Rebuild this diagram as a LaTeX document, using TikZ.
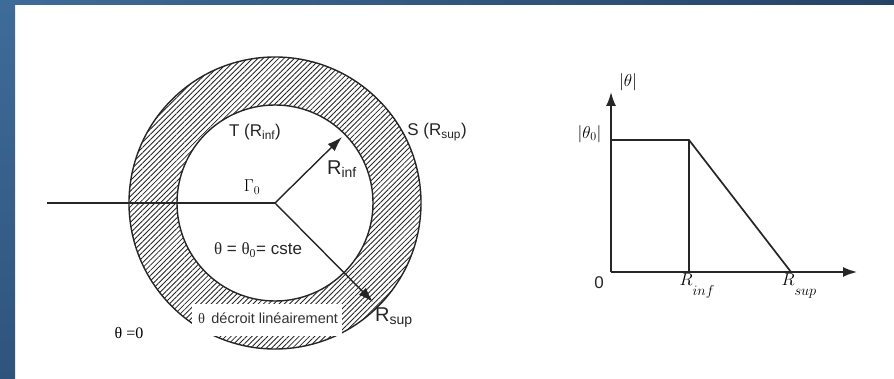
\documentclass[tikz,border=0pt]{standalone}
\usepackage{fontspec}
\setmainfont{Liberation Sans}
\newfontfamily\serif{Liberation Serif}
\usepackage{amsmath}
\usetikzlibrary{arrows.meta, patterns.meta}

\definecolor{slidelight}{RGB}{62,108,152}
\definecolor{slidemid}{RGB}{47,84,124}
\definecolor{slidedark}{RGB}{38,67,102}

\begin{document}
\begin{tikzpicture}[x=1pt, y=-1pt,
    ring/.style={pattern={Lines[angle=45, distance=3.7pt, line width=0.85pt]}, pattern color=black!85},
    edge/.style={line width=1.4pt, black!85},
    axis/.style={line width=1.8pt, black!85, -{Latex[length=14pt, width=10pt]}},
    arrowtip/.style={-{Latex[length=15pt, width=10pt]}},
    lbl/.style={font=\fontsize{17}{19}\selectfont, text=black!85},
    biglbl/.style={font=\fontsize{20}{22}\selectfont, text=black!85},
    small/.style={font=\fontsize{14.5}{16}\selectfont, text=black!80}]

        % Slide border
        \useasboundingbox (0,0) rectangle (894,379);
        \fill[white] (0,0) rectangle (894,379);
        \shade[top color=slidelight, bottom color=slidemid] (0,0) rectangle (15,379);
        \shade[left color=slidelight, right color=slidedark] (0,0) rectangle (894,5);

        % Centre of the ring and arrow ends
        \coordinate (O) at (275,203);    % Centre
        \coordinate (L) at (47,203);     % Left end of the cut
        \coordinate (Ri) at (342,137);   % Inner radius
        \coordinate (Rs) at (373,302);   % Outer radius

        % Hatched ring with both circles
        \path[ring, even odd rule] (O) circle[radius=146pt] (O) circle[radius=98pt];
        \draw[edge] (O) circle[radius=146pt];
        \draw[edge] (O) circle[radius=98pt];

        % White box over the ring
        \fill[white] (192,304) rectangle (342,336);

        % Cut and radii
        \draw[edge] (L) -- (O);
        \draw[edge, arrowtip] (O) -- (Ri);
        \draw[edge, arrowtip] (O) -- (Rs);

        % Labels of the ring
        \node[lbl] (T) at (255,132) {T (R\textsubscript{inf})};
        \node[lbl] (S) at (437,132) {S (R\textsubscript{sup})};
        \node[biglbl] (Rinf) at (342,169) {R\textsubscript{inf}};
        \node[biglbl] (Rsup) at (394,318) {R\textsubscript{sup}};
        \node[font=\fontsize{18}{20}\selectfont] (G) at (252,187) {$\Gamma_0$};
        \node[lbl] (C) at (258,250) {{\serif θ} = {\serif θ}\textsubscript{\serif 0}= cste};
        \node[small] (D) at (268,318) {{\serif θ}\, décroit linéairement};
        \node[font=\serif\fontsize{16}{18}\selectfont] (Z) at (129,333) {θ =0};

        % Profile of |theta|
        \coordinate (P0) at (611,272);   % Origin
        \coordinate (Py) at (611,92);    % Top of the axis
        \coordinate (Px) at (857,272);   % End of the axis
        \coordinate (Pa) at (611,140);   % Plateau start
        \coordinate (Pb) at (689,140);   % Plateau end
        \coordinate (Pc) at (689,272);   % Foot at R_inf
        \coordinate (Pd) at (791,272);   % Foot at R_sup

        \draw[axis] (P0) -- (Py);
        \draw[axis] (P0) -- (Px);
        \draw[edge, line width=1.7pt] (Pa) -- (Pb) -- (Pd);
        \draw[edge, line width=1.7pt] (Pb) -- (Pc);

        % Labels of the profile
        \node[font=\fontsize{16}{18}\selectfont] (Th) at (628,82) {$|\theta|$};
        \node[font=\fontsize{18}{20}\selectfont, anchor=east] (Th0) at (605,134) {$|\theta_0|$};
        \node[lbl] (N0) at (599,283) {0};
        \node[font=\fontsize{17}{19}\selectfont, anchor=north west] (Ai) at (676,270) {$R$\raisebox{-10pt}{\fontsize{14}{16}\selectfont$inf$}};
        \node[font=\fontsize{17}{19}\selectfont, anchor=north west] (As) at (778,270) {$R$\raisebox{-10pt}{\fontsize{14}{16}\selectfont$sup$}};
    \end{tikzpicture}
\end{document}
